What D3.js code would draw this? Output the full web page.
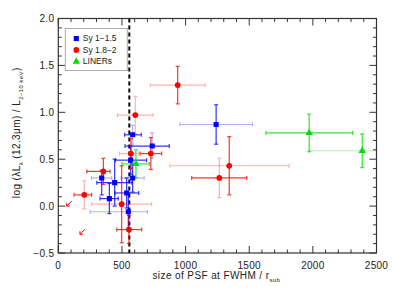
<!DOCTYPE html>
<html>
<head>
<meta charset="utf-8">
<script src="https://cdn.jsdelivr.net/npm/d3@7"></script>
<style>
  body { margin: 0; background: #fff; }
  text { font-family: "Liberation Sans", Arial, sans-serif; fill: #222; }
</style>
</head>
<body>
<script>
//------------------ Data -----------------------------------------

// Sy 1-1.5 (blue squares)
var sy1X     = [1240, 584, 738, 569, 584, 341, 443, 537, 401, 550];
var sy1Y     = [0.87, 0.76, 0.64, 0.49, 0.30, 0.30, 0.25, 0.14, 0.08, -0.06];
var sy1XLo   = [285, 63, 214, 120, 90, 80, 140, 92, 73, 300];
var sy1XHi   = [285, 68, 134, 125, 90, 78, 135, 95, 70, 150];
var sy1YLo   = [0.21, 0.10, 0.13, 0.15, 0.15, 0.18, 0.25, 0.16, 0.16, 0.20];
var sy1YHi   = [0.21, 0.10, 0.14, 0.15, 0.15, 0.08, 0.25, 0.16, 0.16, 0.20];
var sy1XWeak = [1, 0, 0, 0, 1, 1, 0, 0, 0, 1];
var sy1YWeak = [0, 1, 1, 0, 0, 0, 0, 0, 0, 0];

// Sy 1.8-2 (red)
var sy2X     = [938, 605, 571, 727, 498, 555, 354, 204, 1265, 1343];
var sy2Y     = [1.29, 0.97, 0.56, 0.56, 0.02, -0.25, 0.37, 0.12, 0.30, 0.43];
var sy2XLo   = [215, 140, 90, 85, 236, 96, 130, 80, 217, 466];
var sy2XHi   = [215, 140, 60, 85, 235, 100, 52, 58, 215, 469];
var sy2YLo   = [0.20, 0.20, 0.16, 0.17, 0.41, 0.15, 0.14, 0.15, 0.21, 0.31];
var sy2YHi   = [0.20, 0.20, 0.16, 0.17, 0.41, 0.15, 0.14, 0.15, 0.21, 0.31];
var sy2XWeak = [1, 1, 1, 0, 1, 0, 0, 0, 0, 1];
var sy2YWeak = [0, 1, 0, 0, 0, 0, 0, 1, 1, 0];

// Sy 1.8-2 upper limits (arrows)
var limX = [66, 170];
var limY = [0.0, -0.3];

// LINERs (green triangles)
var linX     = [1971, 2388, 610];
var linY     = [0.78, 0.59, 0.45];
var linXLo   = [340, 417, 110];
var linXHi   = [341, 200, 105];
var linYLo   = [0.20, 0.18, 0.15];
var linYHi   = [0.20, 0.18, 0.15];
var linXWeak = [0, 1, 0];
var linYWeak = [0, 0, 0];

var psfLimit = 558;

var xTicks = [0, 500, 1000, 1500, 2000, 2500];
var yTicks = [-0.5, 0.0, 0.5, 1.0, 1.5, 2.0];

var legendNames = ["Sy 1\u22121.5", "Sy 1.8\u22122", "LINERs"];

//------------------ Sizes and scales -----------------------------

var W = 394, H = 291;
var margin = { top: 18.5, right: 17.5, bottom: 38, left: 58.3 },
    width  = W - margin.left - margin.right,
    height = H - margin.top - margin.bottom;

var x = d3.scaleLinear().domain([0, 2500]).range([0, width]);
var y = d3.scaleLinear().domain([-0.5, 2.0]).range([height, 0]);
var fmt = d3.format(".1f");

var svg = d3.select("body").append("svg")
    .attr("width", W)
    .attr("height", H)
    .append("g")
    .attr("transform", "translate(" + margin.left + "," + margin.top + ")");

svg.append("clipPath").attr("id", "clip")
    .append("rect").attr("width", width).attr("height", height);

var plot = svg.append("g").attr("clip-path", "url(#clip)");

//------------------ Dashed PSF line ------------------------------

plot.append("line")
    .attr("x1", x(psfLimit)).attr("x2", x(psfLimit))
    .attr("y1", 0).attr("y2", height)
    .attr("stroke", "#000")
    .attr("stroke-width", 2)
    .attr("stroke-dasharray", "4,3");

//------------------ Error bars and markers -----------------------

function build(xs, ys, xlo, xhi, ylo, yhi, xw, yw) {
    return xs.map(function(v, i) {
        return { x: v, y: ys[i], xlo: v - xlo[i], xhi: v + xhi[i],
                 ylo: ys[i] - ylo[i], yhi: ys[i] + yhi[i], xw: xw[i], yw: yw[i] };
    });
}

var series = [
    { color: "#0000ff", shape: d3.symbolSquare,   size: 26,
      pts: build(sy1X, sy1Y, sy1XLo, sy1XHi, sy1YLo, sy1YHi, sy1XWeak, sy1YWeak) },
    { color: "#ff0000", shape: d3.symbolCircle,   size: 26,
      pts: build(sy2X, sy2Y, sy2XLo, sy2XHi, sy2YLo, sy2YHi, sy2XWeak, sy2YWeak) },
    { color: "#00e000", shape: d3.symbolTriangle, size: 24,
      pts: build(linX, linY, linXLo, linXHi, linYLo, linYHi, linXWeak, linYWeak) }
];

var cap = 2;

series.forEach(function(s) {
    var g = plot.append("g").attr("stroke", s.color).attr("stroke-width", 1.2);

    s.pts.forEach(function(d) {
        // horizontal bar with caps
        var h = g.append("g").attr("opacity", d.xw ? 0.3 : 0.8);
        h.append("line")
            .attr("x1", x(d.xlo)).attr("x2", x(d.xhi))
            .attr("y1", y(d.y)).attr("y2", y(d.y));
        [d.xlo, d.xhi].forEach(function(e) {
            h.append("line")
                .attr("x1", x(e)).attr("x2", x(e))
                .attr("y1", y(d.y) - cap).attr("y2", y(d.y) + cap);
        });

        // vertical bar with caps
        var v = g.append("g").attr("opacity", d.yw ? 0.3 : 0.8);
        v.append("line")
            .attr("x1", x(d.x)).attr("x2", x(d.x))
            .attr("y1", y(d.ylo)).attr("y2", y(d.yhi));
        [d.ylo, d.yhi].forEach(function(e) {
            v.append("line")
                .attr("x1", x(d.x) - cap).attr("x2", x(d.x) + cap)
                .attr("y1", y(e)).attr("y2", y(e));
        });
    });
});

series.forEach(function(s) {
    plot.append("g").selectAll("path")
        .data(s.pts)
        .enter().append("path")
        .attr("transform", function(d) { return "translate(" + x(d.x) + "," + y(d.y) + ")"; })
        .attr("d", d3.symbol().type(s.shape).size(s.size))
        .attr("fill", s.color);
});

// upper limit arrows, pointing down-left
var lim = plot.append("g").attr("stroke", "#ff0000").attr("stroke-width", 1).attr("fill", "none");
limX.forEach(function(v, i) {
    var px = x(v), py = y(limY[i]);
    lim.append("line").attr("x1", px + 5).attr("y1", py - 5).attr("x2", px).attr("y2", py);
    lim.append("path").attr("d", "M" + px + "," + (py - 3) + "L" + px + "," + py + "L" + (px + 3) + "," + py);
});

//------------------ Axes (ticks point inward) --------------------

var axisColor = "#333";
var frame = svg.append("g").attr("stroke", axisColor).attr("fill", "none");
frame.append("rect").attr("width", width).attr("height", height).attr("stroke-width", 1.2);

var xMinor = d3.range(0, 2501, 100);
var yMinor = d3.range(-0.5, 2.001, 0.1);

function tickLen(v, majors) {
    return majors.some(function(m) { return Math.abs(m - v) < 1e-6; }) ? 7 : 3.5;
}

xMinor.forEach(function(v) {
    var L = tickLen(v, xTicks);
    frame.append("line").attr("x1", x(v)).attr("x2", x(v)).attr("y1", height).attr("y2", height - L);
    frame.append("line").attr("x1", x(v)).attr("x2", x(v)).attr("y1", 0).attr("y2", L);
});
yMinor.forEach(function(v) {
    var L = tickLen(v, yTicks);
    frame.append("line").attr("x1", 0).attr("x2", L).attr("y1", y(v)).attr("y2", y(v));
    frame.append("line").attr("x1", width).attr("x2", width - L).attr("y1", y(v)).attr("y2", y(v));
});

svg.append("g").selectAll("text")
    .data(xTicks)
    .enter().append("text")
    .attr("x", function(d) { return x(d); })
    .attr("y", height + 16)
    .attr("text-anchor", "middle")
    .style("font-size", "10px")
    .style("letter-spacing", "0.3px")
    .text(function(d) { return d; });

svg.append("g").selectAll("text")
    .data(yTicks)
    .enter().append("text")
    .attr("x", -4)
    .attr("y", function(d) { return y(d); })
    .attr("dy", "0.35em")
    .attr("text-anchor", "end")
    .style("font-size", "10px")
    .style("letter-spacing", "0.3px")
    .text(function(d) { return fmt(d); });

// x title
var xt = svg.append("text")
    .attr("x", width / 2 - 1)
    .attr("y", height + 26)
    .attr("text-anchor", "middle")
    .style("font-size", "10px")
    .style("letter-spacing", "0.4px");
xt.append("tspan").text("size of PSF at FWHM / r");
xt.append("tspan").attr("dy", 2.5).style("font-size", "6px").text("sub");

// y title
var yt = svg.append("text")
    .attr("transform", "translate(-38," + (height / 2 - 3) + ") rotate(-90)")
    .attr("text-anchor", "middle")
    .style("font-size", "10px")
    .style("letter-spacing", "0.4px");
yt.append("tspan").text("log (\u03bbL");
yt.append("tspan").attr("dy", 2.5).style("font-size", "6px").text("\u03bb");
yt.append("tspan").attr("dy", -2.5).text(" (12.3\u03bcm) / L");
yt.append("tspan").attr("dy", 2.5).style("font-size", "6px").text("2\u221210 keV");
yt.append("tspan").attr("dy", -2.5).text(")");

//------------------ Legend ---------------------------------------

var legend = svg.append("g").attr("transform", "translate(7,10)");
legend.append("rect")
    .attr("width", 62).attr("height", 42)
    .attr("fill", "#fff")
    .attr("stroke", "#aaa");

var item = legend.selectAll("g.item")
    .data(series)
    .enter().append("g")
    .attr("class", "item")
    .attr("transform", function(d, i) { return "translate(11," + (10 + i * 11.5) + ")"; });

item.append("path")
    .attr("d", function(d) { return d3.symbol().type(d.shape).size(d.size)(); })
    .attr("fill", function(d) { return d.color; });

item.append("text")
    .attr("x", 6.5)
    .attr("dy", "0.35em")
    .style("font-size", "8.5px")
    .text(function(d, i) { return legendNames[i]; });
</script>
</body>
</html>
